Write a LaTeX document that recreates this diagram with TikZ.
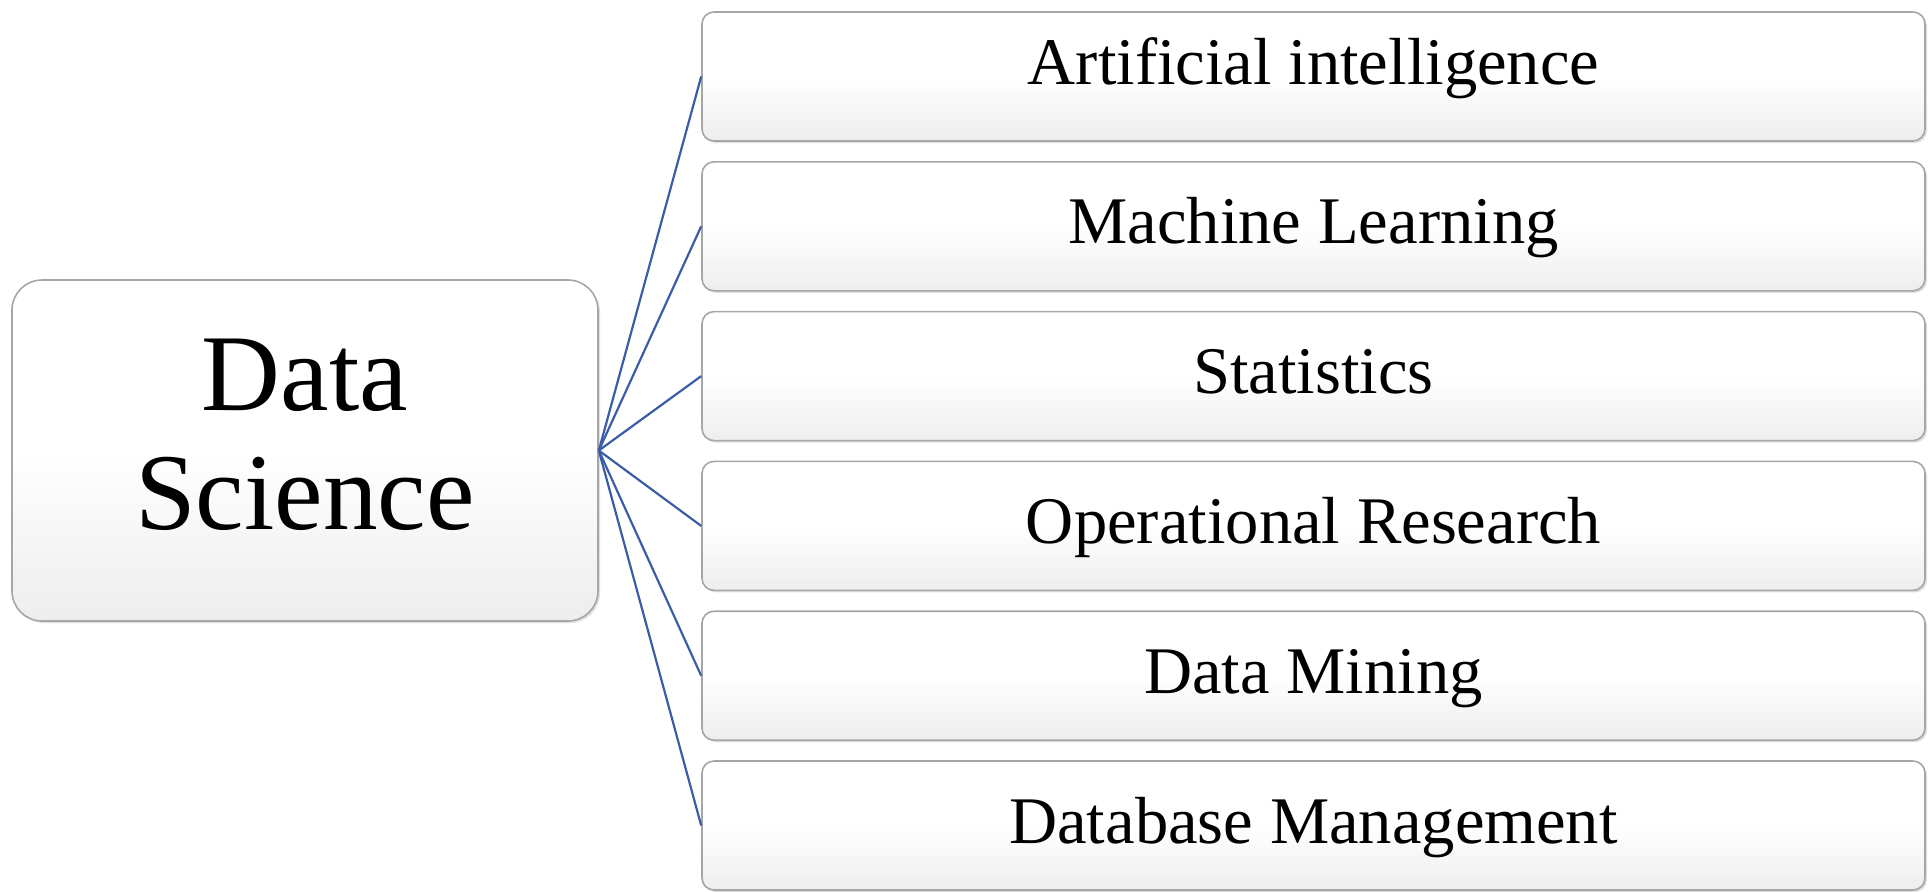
\documentclass[tikz,border=0pt]{standalone}
\usepackage{fontspec}
\setmainfont{Liberation Serif}
\usetikzlibrary{positioning,shadows,scopes}
\definecolor{link}{HTML}{3B5DA8}
\definecolor{rim}{HTML}{A6A6A6}
\tikzset{
  card/.style={draw=rim, line width=0.8pt, top color=white, bottom color=black!7,
               middle color=white, drop shadow={opacity=0.25, shadow xshift=1pt,
               shadow yshift=-1pt}},
  core/.style={card, rounded corners=15pt, minimum width=293pt, minimum height=170.5pt,
               align=center, text depth=16.5pt, font=\fontsize{54.6}{59.5}\selectfont},
  topic/.style={card, rounded corners=6pt, minimum width=611.5pt, minimum height=64.5pt,
                text height=22.5pt, text depth=5pt, font=\fontsize{33.3}{40}\selectfont},
  spoke/.style={draw=link, line width=1.1pt},
}

\begin{document}
\begin{tikzpicture}[x=0.5pt, y=-0.5pt]
    \useasboundingbox (0,0) rectangle (1928,891);
    \node[core] (ds) at (305,450.5) {Data\\Science};
    % the six fields, stacked
    \node[topic, text depth=15pt] (ai) at (1313.5,76.5) {Artificial intelligence};
    \node[topic, below=9.6pt of ai] (ml) {Machine Learning};
    \node[topic, below=9.6pt of ml] (st) {Statistics};
    \node[topic, below=9.6pt of st] (or) {Operational Research};
    \node[topic, below=9.6pt of or] (dm) {Data Mining};
    \node[topic, below=9.6pt of dm] (db) {Database Management};
    { [spoke]
      \draw (ds.east) -- (ai.west);
      \draw (ds.east) -- (ml.west);
      \draw (ds.east) -- (st.west);
      \draw (ds.east) -- (or.west);
      \draw (ds.east) -- (dm.west);
      \draw (ds.east) -- (db.west);
    }
\end{tikzpicture}
\end{document}
